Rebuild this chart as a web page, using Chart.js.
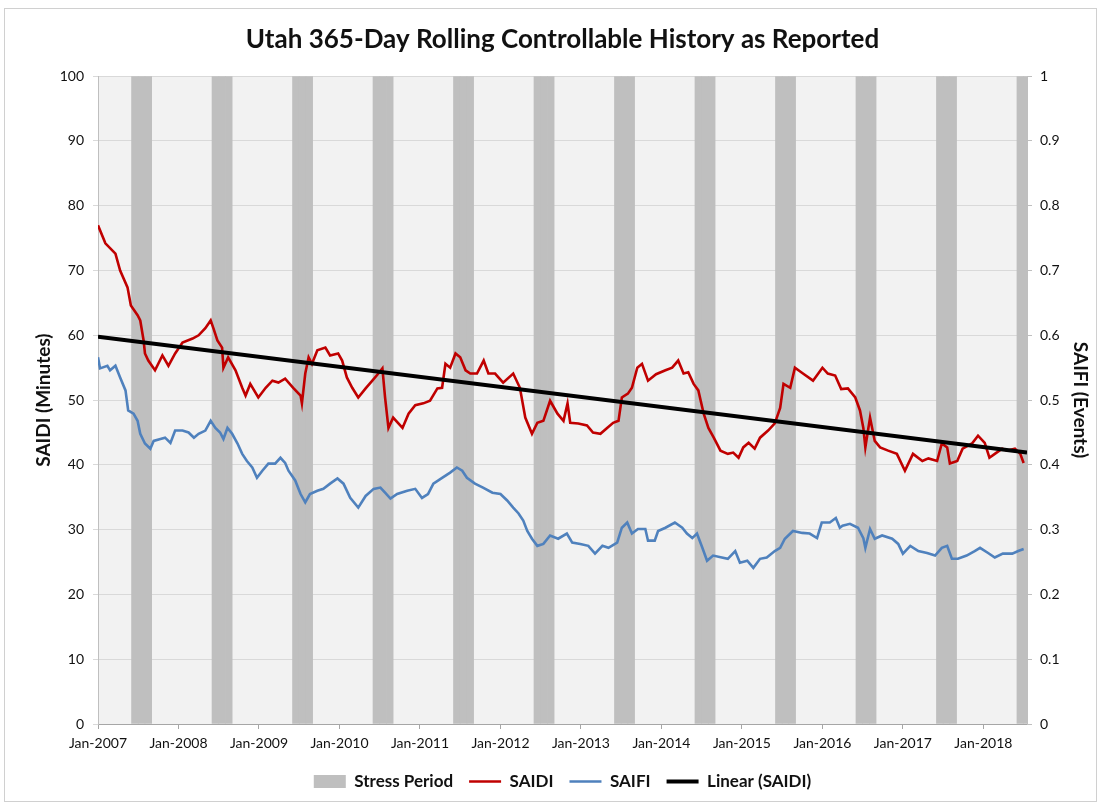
<!DOCTYPE html>
<html>
<head>
<meta charset="utf-8">
<script src="https://cdn.jsdelivr.net/npm/chart.js@4.4.1/dist/chart.umd.min.js"></script>
<style>
  body { margin: 0; background: #fff; }
  canvas { display: block; }
</style>
</head>
<body>
<canvas id="chart" width="1101" height="806"></canvas>
<script>
// time is counted in months from Jan-2007 (0 = Jan-2007)
const firstYear = 2007
const lastYear = 2018
const axisEndMonth = 138.5

// SAIDI (minutes)
const saidiMonths = [
  0, 1.1, 2.6, 3.3, 4.4, 4.9, 5.9, 6.3, 6.8, 7.0, 7.5, 8.5, 9.6, 10.5, 11.5,
  12.6, 14.1, 15.0, 16.0, 16.8, 17.2, 17.8, 18.5, 18.7, 19.4, 20.5, 21.5, 22.0, 22.7, 23.9,
  25.0, 26.0, 26.9, 27.9, 29.1, 30.2, 30.4, 30.9, 31.4, 31.9, 32.7, 33.9, 34.6, 35.8,
  36.4, 37.1, 37.9, 38.8, 39.9, 40.9, 41.8, 42.4, 42.8, 43.3, 44.0, 45.4, 46.3, 47.3,
  48.5, 49.5, 50.6, 51.3, 51.8, 52.5, 53.3, 54.0, 54.8, 55.5, 56.5, 57.5, 58.2, 59.2,
  60.4, 61.9, 62.9, 63.7, 64.7, 65.5, 66.4, 67.4, 68.5, 69.4, 70.0, 70.4, 71.6,
  72.9, 73.8, 74.9, 75.9, 76.8, 77.6, 78.1, 79.0, 79.6, 80.4, 81.1, 82.0, 83.2,
  84.6, 85.6, 86.5, 87.3, 88.0, 88.8, 89.5, 90.3, 91.0, 91.8, 92.8, 93.9, 94.7, 95.5,
  96.2, 97.0, 97.9, 98.7, 99.9, 100.9, 101.7, 102.2, 103.2, 103.9, 105.1, 106.6,
  108.0, 108.8, 109.9, 110.8, 111.8, 112.9, 113.6, 114.1, 114.4, 115.1, 115.8, 116.6, 117.8, 119.1,
  120.3, 121.5, 122.9, 123.8, 125.1, 125.8, 126.6, 127.0, 128.1, 128.9, 130.3, 131.2,
  132.2, 132.9, 133.7, 134.8, 135.6, 136.7, 137.5, 138.0
]
const saidiValues = [
  77.0, 74.2, 72.6, 70.0, 67.4, 64.6, 63.1, 62.3, 59.2, 57.2, 56.1, 54.6, 56.9, 55.3, 57.2,
  58.9, 59.5, 60.0, 61.1, 62.3, 61.1, 59.2, 58.1, 55.0, 56.6, 54.6, 51.9, 50.7, 52.5, 50.4,
  51.9, 53.0, 52.7, 53.3, 51.9, 50.7, 49.5, 54.1, 56.6, 55.6, 57.7, 58.1, 56.9, 57.2,
  56.1, 53.5, 51.9, 50.4, 51.8, 53.0, 54.1, 54.9, 50.4, 45.7, 47.3, 45.7, 47.9, 49.2,
  49.5, 49.9, 51.8, 51.9, 55.6, 55.0, 57.2, 56.6, 54.6, 54.1, 54.1, 56.1, 54.1, 54.1,
  52.7, 54.1, 51.9, 47.3, 44.8, 46.5, 46.8, 49.9, 47.9, 46.8, 49.5, 46.5, 46.4,
  46.1, 45.0, 44.8, 45.7, 46.5, 46.8, 50.4, 51.0, 51.9, 55.0, 55.6, 53.0, 54.0,
  54.6, 55.0, 56.1, 54.1, 54.3, 52.5, 51.5, 47.9, 45.7, 44.2, 42.2, 41.7, 41.9, 41.1,
  42.7, 43.4, 42.5, 44.2, 45.3, 46.4, 48.8, 52.5, 51.9, 55.0, 54.1, 53.0,
  55.0, 54.1, 53.8, 51.7, 51.8, 50.4, 48.4, 45.7, 42.7, 47.3, 43.7, 42.7, 42.2, 41.7,
  39.1, 41.7, 40.6, 41.0, 40.6, 43.3, 42.7, 40.2, 40.6, 42.5, 43.3, 44.5,
  43.4, 41.1, 41.7, 42.5, 42.2, 42.5, 41.7, 40.3
]

// SAIFI (events)
const saifiMonths = [
  0, 0.3, 1.4, 1.8, 2.6, 3.3, 4.1, 4.5, 5.3, 5.9, 6.3, 7.0, 7.8, 8.3, 9.3, 10.0, 10.8, 11.5,
  12.6, 13.5, 14.3, 15.0, 16.0, 16.8, 17.5, 18.2, 18.7, 19.3, 20.0, 20.8, 21.5, 22.2, 23.0, 23.7,
  24.5, 25.4, 26.4, 27.2, 27.9, 28.4, 29.4, 30.2, 30.9, 31.6, 32.7, 33.6, 34.6, 35.7,
  36.6, 37.6, 38.8, 39.9, 41.1, 42.1, 42.8, 43.6, 44.6, 46.1, 47.3,
  48.3, 49.2, 50.0, 51.3, 52.5, 53.5, 54.3, 55.0, 56.2, 57.4, 58.8,
  60.0, 61.0, 61.9, 62.7, 63.4, 64.0, 64.7, 65.5, 66.4, 67.4, 68.6, 69.9, 70.7, 71.9,
  73.1, 74.1, 75.2, 76.1, 77.4, 78.1, 78.9, 79.6, 80.5, 81.6, 82.0, 83.0, 83.5,
  84.6, 86.0, 87.1, 87.8, 88.6, 89.3, 90.1, 90.8, 91.7, 93.0, 93.9, 95.0, 95.7,
  96.8, 97.7, 98.7, 99.7, 100.9, 101.7, 102.4, 103.6, 105.0, 106.1, 107.2, 107.9,
  109.1, 110.0, 110.6, 111.0, 112.1, 113.3, 114.1, 114.4, 115.1, 115.8, 116.9, 118.4, 119.3,
  120.0, 121.1, 122.3, 123.6, 124.8, 125.8, 126.6, 127.3, 128.2, 129.5, 130.7, 131.5,
  132.7, 133.7, 134.9, 136.3, 137.2, 138.0
]
const saifiValues = [
  0.566, 0.549, 0.553, 0.546, 0.553, 0.535, 0.515, 0.484, 0.479, 0.468, 0.448, 0.433, 0.425, 0.437, 0.440, 0.442, 0.434, 0.453,
  0.453, 0.450, 0.442, 0.448, 0.453, 0.468, 0.457, 0.450, 0.440, 0.457, 0.448, 0.433, 0.417, 0.406, 0.396, 0.380,
  0.391, 0.402, 0.402, 0.411, 0.403, 0.391, 0.376, 0.355, 0.342, 0.355, 0.360, 0.363, 0.371, 0.379,
  0.371, 0.349, 0.334, 0.352, 0.363, 0.365, 0.357, 0.348, 0.355, 0.360, 0.363,
  0.349, 0.355, 0.371, 0.380, 0.388, 0.396, 0.391, 0.380, 0.371, 0.365, 0.357,
  0.355, 0.345, 0.334, 0.325, 0.314, 0.298, 0.286, 0.275, 0.278, 0.291, 0.286, 0.294, 0.280, 0.278,
  0.275, 0.263, 0.275, 0.272, 0.280, 0.303, 0.311, 0.294, 0.301, 0.301, 0.283, 0.283, 0.298,
  0.303, 0.311, 0.303, 0.294, 0.287, 0.294, 0.272, 0.252, 0.260, 0.257, 0.255, 0.267, 0.249,
  0.252, 0.241, 0.255, 0.257, 0.267, 0.272, 0.286, 0.298, 0.295, 0.294, 0.287, 0.311,
  0.311, 0.318, 0.303, 0.306, 0.309, 0.303, 0.287, 0.272, 0.301, 0.286, 0.291, 0.286, 0.278,
  0.263, 0.275, 0.267, 0.264, 0.260, 0.272, 0.275, 0.255, 0.255, 0.260, 0.267, 0.272,
  0.264, 0.257, 0.263, 0.263, 0.267, 0.270
]

// linear trend of SAIDI, read at both ends of the axis
const trendMonths = [0, axisEndMonth]
const trendSaidi = [59.8, 41.9]

// stress period = Jun, Jul, Aug every year (month index inside the year)
const stressMonths = [5, 6, 7]
const stressHeight = 100

const pair = (xs, ys) => xs.map((x, i) => ({x: x, y: ys[i]}))

const stressData = []
for (let y = firstYear; y <= lastYear; y++) {
  stressMonths.forEach(m => stressData.push({x: (y - firstYear) * 12 + m + 0.5, y: stressHeight}))
}

const font = 'Lato, "Open Sans", sans-serif'
const textColor = '#111'

const plotBg = {
  id: 'plotBg',
  beforeDraw(chart) {
    const {ctx, chartArea: a} = chart
    ctx.save()
    ctx.fillStyle = '#f2f2f2'
    ctx.fillRect(a.left, a.top, a.right - a.left, a.bottom - a.top)
    ctx.restore()
  },
  afterDraw(chart) {
    const ctx = chart.ctx
    ctx.save()
    ctx.strokeStyle = '#d0d0d0'
    ctx.lineWidth = 1
    ctx.strokeRect(4.5, 8.5, 1092, 793)
    ctx.restore()
  }
}

new Chart(document.getElementById('chart'), {
  data: {
    datasets: [
      {
        type: 'bar',
        label: 'Stress Period',
        data: stressData,
        backgroundColor: '#bfbfbf',
        borderWidth: 0,
        barPercentage: 1,
        categoryPercentage: 1,
        yAxisID: 'y',
        order: 10
      },
      {
        type: 'line',
        label: 'SAIDI',
        data: pair(saidiMonths, saidiValues),
        borderColor: '#c00000',
        borderWidth: 2.6,
        pointRadius: 0,
        yAxisID: 'y',
        order: 2
      },
      {
        type: 'line',
        label: 'SAIFI',
        data: pair(saifiMonths, saifiValues),
        borderColor: '#4f81bd',
        borderWidth: 2.6,
        pointRadius: 0,
        yAxisID: 'y1',
        order: 3
      },
      {
        type: 'line',
        label: 'Linear (SAIDI)',
        data: pair(trendMonths, trendSaidi),
        borderColor: '#000000',
        borderWidth: 4,
        pointRadius: 0,
        yAxisID: 'y',
        order: 1
      }
    ]
  },
  options: {
    responsive: false,
    animation: false,
    layout: { padding: { top: 0, left: 0, right: 0, bottom: 6 } },
    plugins: {
      tooltip: { enabled: false },
      title: {
        display: true,
        text: 'Utah 365-Day Rolling Controllable History as Reported',
        color: textColor,
        fullSize: false,
        font: { family: font, size: 26, weight: 'bold' },
        padding: { top: 24, bottom: 21 }
      },
      legend: {
        position: 'bottom',
        fullSize: false,
        labels: {
          usePointStyle: true,
          pointStyleWidth: 32,
          boxHeight: 13,
          padding: 16,
          color: textColor,
          font: { family: font, size: 17, weight: 'bold' },
          generateLabels(chart) {
            return chart.data.datasets.map((ds, i) => ({
              text: ds.label,
              fillStyle: ds.type === 'bar' ? ds.backgroundColor : ds.borderColor,
              strokeStyle: ds.type === 'bar' ? ds.backgroundColor : ds.borderColor,
              lineWidth: ds.type === 'bar' ? 0 : ds.borderWidth,
              pointStyle: ds.type === 'bar' ? 'rect' : 'line',
              fontColor: textColor,
              hidden: false,
              datasetIndex: i
            }))
          }
        }
      }
    },
    scales: {
      x: {
        type: 'linear',
        min: 0,
        max: axisEndMonth,
        offset: false,
        afterBuildTicks(scale) {
          // one tick every January
          const ticks = []
          for (let y = firstYear; y <= lastYear; y++) ticks.push({value: (y - firstYear) * 12})
          scale.ticks = ticks
        },
        afterFit(scale) { scale.height = 33 },
        ticks: {
          autoSkip: false,
          maxRotation: 0,
          padding: 6,
          color: textColor,
          font: { family: font, size: 14 },
          callback: v => 'Jan-' + (firstYear + Math.round(v / 12))
        },
        grid: { drawOnChartArea: false, offset: false, tickLength: 5, color: '#a6a6a6' },
        border: { color: '#a6a6a6' }
      },
      y: {
        position: 'left',
        min: 0,
        max: 100,
        afterFit(scale) { scale.width = 98 },
        ticks: { stepSize: 10, padding: 9, color: textColor, font: { family: font, size: 14 } },
        grid: { color: '#d9d9d9', tickLength: 5 },
        border: { color: '#bfbfbf' },
        title: {
          display: true,
          text: 'SAIDI (Minutes)',
          color: textColor,
          font: { family: font, size: 19, weight: 'bold' },
          padding: { top: 32, bottom: 0 }
        }
      },
      y1: {
        position: 'right',
        min: 0,
        max: 1,
        afterFit(scale) { scale.width = 74 },
        ticks: {
          stepSize: 0.1,
          padding: 8,
          color: textColor,
          font: { family: font, size: 14 },
          callback: v => +v.toFixed(1)
        },
        grid: { drawOnChartArea: false, tickLength: 5, color: '#bfbfbf' },
        border: { color: '#bfbfbf' },
        title: {
          display: true,
          text: 'SAIFI (Events)',
          color: textColor,
          font: { family: font, size: 19, weight: 'bold' },
          padding: { top: 9, bottom: 0 }
        }
      }
    }
  },
  plugins: [plotBg]
})
</script>
</body>
</html>
